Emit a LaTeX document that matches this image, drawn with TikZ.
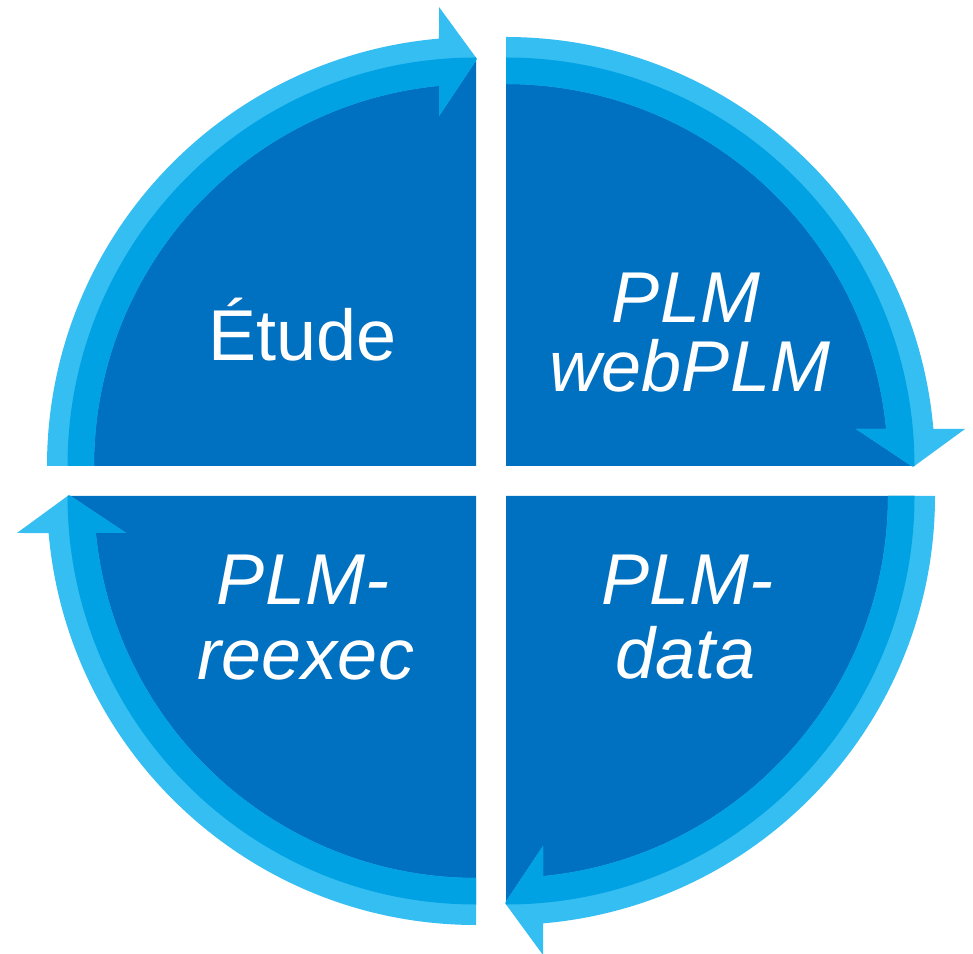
\documentclass[tikz,border=0pt]{standalone}
\usepackage{fontspec}
\setmainfont{Liberation Sans}
\definecolor{pieblue}{RGB}{0,112,192}
\definecolor{bandlight}{RGB}{53,190,242}
\definecolor{bandmid}{RGB}{0,162,228}
% quarter disc, local centre at the origin, filling the upper-left quadrant
\newcommand\piepath{(0,0) -- (180:408.5) arc[start angle=180,end angle=90,radius=408.5] -- cycle}
% curved arrow running clockwise from 180 to 90 degrees
\newcommand\arrowpath{(180:429) arc[start angle=180,end angle=94.95,radius=429]
  -- (-37,459) -- (1,407) -- (-37,350) -- (95.56:382)
  arc[start angle=95.56,end angle=180,radius=382] -- cycle}
\newcommand\quadrant[3]{%
  \begin{scope}[shift={(#1,#2)},rotate=#3]
    \fill[pieblue] \piepath;
    \fill[bandlight] \arrowpath;
    \begin{scope}
      \clip \piepath;
      \fill[bandmid] \arrowpath;
    \end{scope}
  \end{scope}}
\begin{document}
\begin{tikzpicture}[x=1pt,y=1pt,
  label/.style={text=white,anchor=base,inner sep=0pt,font=\fontsize{72}{72}\selectfont},
  itlabel/.style={label,font=\fontsize{72}{72}\selectfont\itshape}]
\useasboundingbox (0,0) rectangle (973,953);
\fill[white] (0,0) rectangle (973,953);
\quadrant{476}{487}{0}
\quadrant{506}{487}{-90}
\quadrant{506}{457}{-180}
\quadrant{476}{457}{90}
\node[label] (etude) at (302.5,592) {Étude};
\node[itlabel] (plmA) at (686,630) {PLM};
\node[itlabel] (webplm) at (690,561) {webPLM};
\node[itlabel] (plmB) at (303,348) {PLM-};
\node[itlabel] (reexec) at (306,273) {reexec};
\node[itlabel] (plmC) at (687,348) {PLM-};
\node[itlabel] (data) at (685.5,275) {data};
\end{tikzpicture}
\end{document}
